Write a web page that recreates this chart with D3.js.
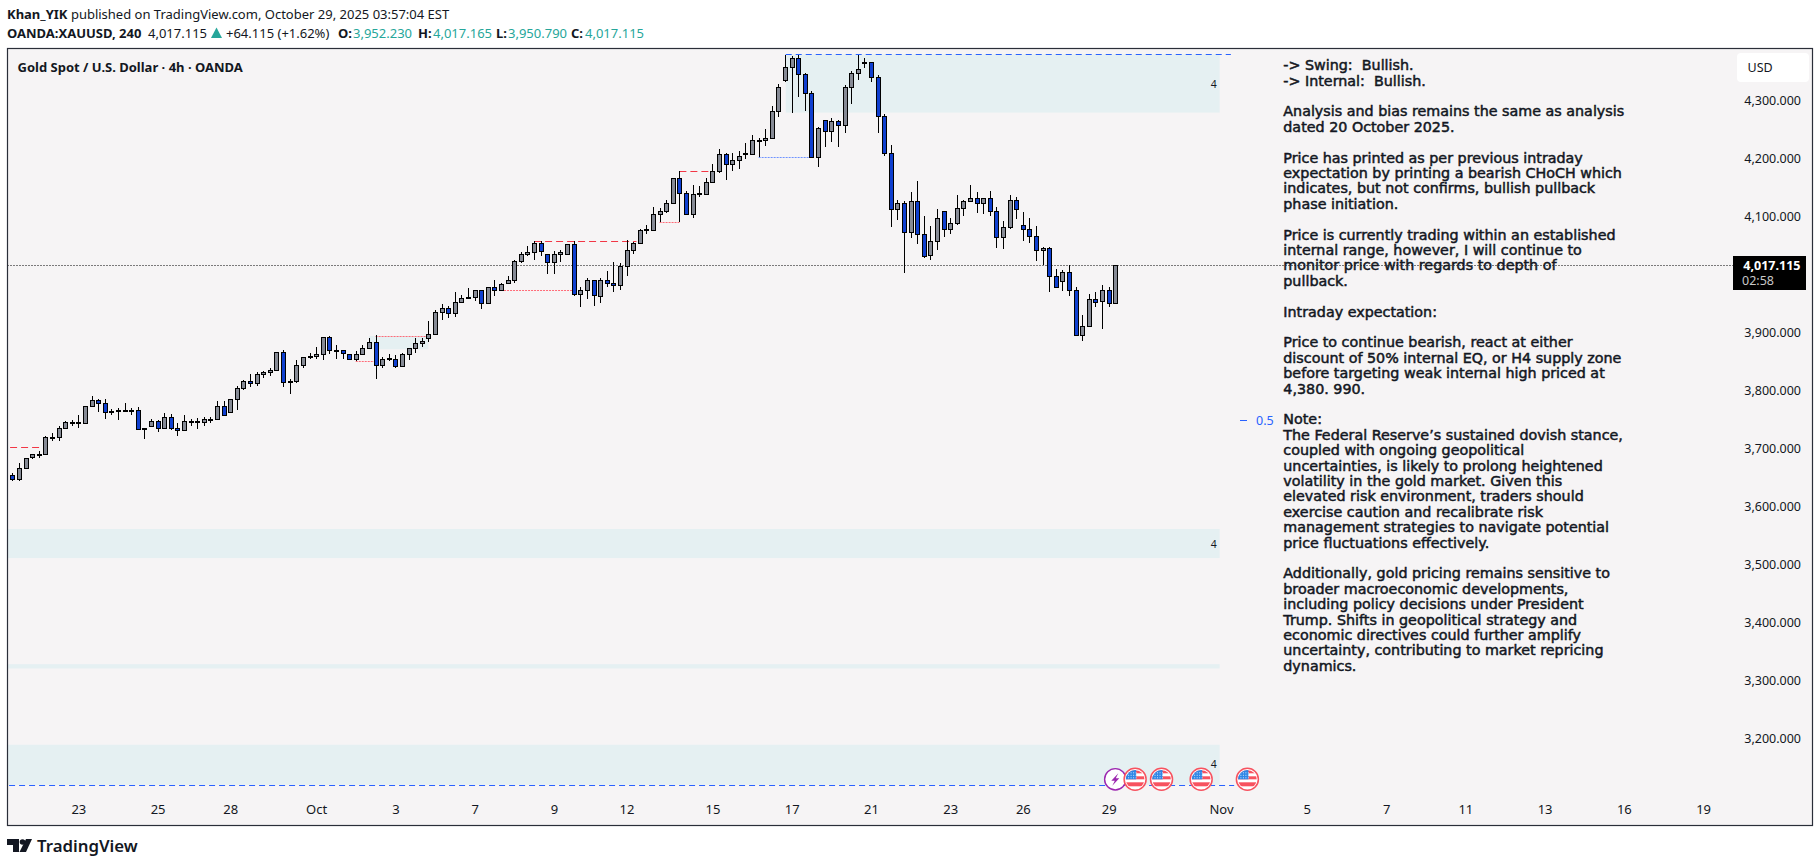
<!DOCTYPE html>
<html>
<head>
<meta charset="utf-8">
<script src="https://cdn.jsdelivr.net/npm/d3@7"></script>
<style>
  html, body { margin: 0; padding: 0; background: #fff; }
  svg { display: block; }
  text { font-family: "Noto Sans", sans-serif; fill: #131722; }
</style>
</head>
<body>
<script>
// OHLC of the 4h candles
const opens = [
  3655,3648,3667,3687,3690,3691,3720,3720,3736,3745, 3746,3744,3774,3784,3779,3764,3767,3768,3768,3767,
  3735,3739,3748,3737,3756,3737,3732,3746,3749,3746, 3751,3751,3774,3763,3786,3805,3818,3813,3829,3832,
  3837,3867,3815,3818,3844,3860,3860,3863,3893,3871, 3870,3863,3855,3863,3874,3884,3844,3856,3856,3843,
  3863,3874,3882,3891,3899,3937,3943,3934,3953,3962, 3962,3975,3951,3979,3975,3986,3991,4025,4036,4039,
  4056,4036,4022,4037,4037,4053,3968,3975,3991,3964, 3991,3986,3982,4016,4043,4055,4077,4078,4105,4111,
  4124,4167,4142,4106,4139,4139,4161,4179,4208,4191, 4198,4211,4209,4232,4232,4236,4282,4337,4358,4375,
  4346,4313,4204,4267,4248,4265,4258,4324,4348,4365, 4368,4341,4274,4210,4113,4124,4074,4127,4070,4034,
  4058,4110,4080,4089,4115,4127,4132,4125,4132,4111, 4065,4082,4129,4086,4080,4068,4043,4046,3998,3989,
  4006,3974,3896,3912,3958,3955,3974,3951
];
const highs = [
  3658,3675,3684,3691,3697,3722,3727,3740,3748,3750, 3759,3774,3791,3787,3786,3769,3770,3779,3770,3772,
  3737,3751,3750,3762,3760,3744,3758,3752,3753,3755, 3756,3782,3782,3787,3809,3819,3830,3832,3834,3840,
  3867,3870,3820,3853,3859,3866,3876,3893,3894,3879, 3871,3864,3869,3879,3891,3897,3858,3863,3862,3865,
  3874,3891,3891,3921,3939,3950,3946,3970,3966,3977, 3975,3975,3979,3991,3987,3998,4026,4039,4050,4058,
  4058,4036,4041,4043,4053,4059,3980,3994,3991,3994, 4007,4022,4020,4060,4057,4079,4086,4117,4115,4130,
  4168,4179,4144,4155,4153,4168,4191,4218,4211,4211, 4213,4227,4241,4236,4252,4291,4330,4380,4378,4379,
  4348,4317,4255,4268,4270,4267,4327,4351,4380,4375, 4368,4344,4277,4225,4130,4127,4143,4162,4102,4084,
  4113,4110,4099,4138,4130,4155,4143,4132,4144,4117, 4093,4138,4134,4108,4098,4084,4049,4049,4010,4008,
  4018,3979,3931,3968,3970,3982,3979,4017
];
const lows = [
  3645,3644,3667,3683,3685,3691,3713,3714,3735,3739, 3737,3744,3774,3764,3752,3759,3750,3766,3759,3734,
  3717,3739,3730,3735,3732,3723,3732,3739,3735,3740, 3744,3751,3758,3763,3768,3801,3807,3809,3823,3826,
  3837,3807,3794,3813,3840,3856,3856,3853,3864,3855, 3855,3854,3851,3863,3874,3820,3840,3852,3839,3843,
  3854,3866,3876,3884,3899,3923,3926,3928,3951,3959, 3955,3942,3951,3963,3974,3986,3986,4021,4032,4026,
  4032,4002,4002,4022,4034,3964,3945,3959,3947,3952, 3980,3971,3974,3998,4036,4055,4071,4078,4091,4107,
  4124,4091,4104,4099,4135,4139,4161,4176,4164,4179, 4183,4200,4209,4203,4223,4236,4273,4333,4280,4307,
  4283,4201,4187,4220,4230,4221,4245,4294,4336,4357, 4333,4245,4206,4082,4094,4004,4064,4054,4029,4026,
  4043,4066,4071,4086,4101,4127,4107,4105,4102,4047, 4044,4080,4097,4059,4055,4025,4017,3971,3980,3973,
  3964,3896,3887,3912,3945,3907,3944,3951
];
const closes = [
  3648,3667,3684,3691,3691,3720,3721,3736,3746,3747, 3744,3774,3784,3779,3763,3765,3765,3767,3766,3734,
  3736,3748,3737,3756,3737,3732,3748,3749,3746,3751, 3752,3774,3758,3786,3805,3818,3813,3829,3832,3837,
  3867,3815,3818,3844,3858,3861,3863,3893,3870,3870, 3865,3855,3863,3874,3884,3844,3856,3857,3843,3863,
  3874,3882,3886,3899,3937,3943,3934,3953,3960,3960, 3975,3951,3979,3975,3984,3991,4025,4036,4039,4056,
  4041,4022,4037,4039,4053,3968,3975,3991,3965,3991, 3986,3982,4015,4043,4055,4077,4079,4105,4110,4124,
  4167,4142,4106,4139,4142,4161,4179,4208,4191,4198, 4206,4209,4232,4233,4236,4282,4325,4358,4375,4346,
  4313,4204,4253,4249,4265,4258,4324,4348,4355,4368, 4341,4274,4210,4113,4124,4074,4127,4070,4032,4058,
  4098,4080,4089,4115,4127,4132,4125,4132,4111,4065, 4082,4129,4113,4080,4068,4043,4046,3998,3980,4006,
  3974,3896,3912,3958,3953,3974,3951,4017
];

// axis labels, keyed by bar number
const priceTicks = [4300,4200,4100,3900,3800,3700,3600,3500,3400,3300,3200];
const timeTickBars = [10,22,33,46,58,70,82,93,106,118,130,142,153,166,183,196,208,220,232,244,256];
const timeTickLabels = ["23","25","28","Oct","3","7","9","12","15","17","21","23","26","29","Nov","5","7","11","13","16","19"];

// zones: [first bar, last bar, top price, bottom price]
const zones = [
  [117.1,182.8,4380.5,4280],
  [-2,182.8,3562,3512],
  [-2,182.8,3329,3321.6],
  [-2,182.8,3190,3121],
  [54,63,3895,3872],
  [69,71,3965,3962]
];
// levels: [price, first bar, last bar]
const blueDashed = [[4380.5,117.1,184.5],[3121,-2,185]];
const blueDotted = [[4203,113,121]];
const redDashed = [[3703,-2,5],[4058,79,94.5],[4179,101,106]];
const redDotted = [[3895,55,63],[3851,52,55],[3974,74,85],[4091,98,101]];
const zoneLabels = [[4329,"4"],[3536,"4"],[3157,"4"]];
const lastPrice = 4017.115;
const halfLevel = 3750;

const eventBars = [170,174,180,187];
const dividendBar = 167;

const noteLines = [
  "-> Swing:  Bullish.",
  "-> Internal:  Bullish.",
  "",
  "Analysis and bias remains the same as analysis",
  "dated 20 October 2025.",
  "",
  "Price has printed as per previous intraday",
  "expectation by printing a bearish CHoCH which",
  "indicates, but not confirms, bullish pullback",
  "phase initiation.",
  "",
  "Price is currently trading within an established",
  "internal range, however, I will continue to",
  "monitor price with regards to depth of",
  "pullback.",
  "",
  "Intraday expectation:",
  "",
  "Price to continue bearish, react at either",
  "discount of 50% internal EQ, or H4 supply zone",
  "before targeting weak internal high priced at",
  "4,380. 990.",
  "",
  "Note:",
  "The Federal Reserve\u2019s sustained dovish stance,",
  "coupled with ongoing geopolitical",
  "uncertainties, is likely to prolong heightened",
  "volatility in the gold market. Given this",
  "elevated risk environment, traders should",
  "exercise caution and recalibrate risk",
  "management strategies to navigate potential",
  "price fluctuations effectively.",
  "",
  "Additionally, gold pricing remains sensitive to",
  "broader macroeconomic developments,",
  "including policy decisions under President",
  "Trump. Shifts in geopolitical strategy and",
  "economic directives could further amplify",
  "uncertainty, contributing to market repricing",
  "dynamics."
];

const width = 1820, height = 866;
const frame = {left: 7.5, top: 48.5, right: 1812.5, bottom: 825.5};
const green = "#26a69a", blue = "#2962ff", red = "#f23645", ink = "#131722";

const x = d3.scaleLinear().domain([0, 167]).range([12.3, 1115.3]);
const y = d3.scaleLinear().domain([4300, 3200]).range([101, 739]);

const svg = d3.select("body").append("svg").attr("width", width).attr("height", height);

svg.append("clipPath").attr("id", "plot").append("rect")
  .attr("x", frame.left).attr("y", frame.top)
  .attr("width", frame.right - frame.left).attr("height", frame.bottom - frame.top);

svg.append("rect").attr("x", frame.left).attr("y", frame.top)
  .attr("width", frame.right - frame.left).attr("height", frame.bottom - frame.top)
  .attr("fill", "#f6f4f5");

const plot = svg.append("g").attr("clip-path", "url(#plot)");

plot.append("g").selectAll("rect").data(zones).join("rect")
  .attr("x", d => x(d[0])).attr("width", d => x(d[1]) - x(d[0]))
  .attr("y", d => y(d[2])).attr("height", d => y(d[3]) - y(d[2]))
  .attr("fill", "#e5f0f2");

function levels(data, color, dash, w) {
  plot.append("g").selectAll("line").data(data).join("line")
    .attr("x1", d => x(d[1])).attr("x2", d => x(d[2]))
    .attr("y1", d => Math.round(y(d[0])) + .5).attr("y2", d => Math.round(y(d[0])) + .5)
    .attr("stroke", color).attr("stroke-width", w).attr("stroke-dasharray", dash);
}
levels(blueDashed, blue, "6 4", 1);
levels(blueDotted, "#6f93ff", "2 1", 1);
levels(redDashed, red, "7 4", 1);
levels(redDotted, "#ff6b78", "2 1", 1);

// last price line
plot.append("line")
  .attr("x1", frame.left).attr("x2", 1733)
  .attr("y1", Math.round(y(lastPrice)) + .5).attr("y2", Math.round(y(lastPrice)) + .5)
  .attr("stroke", "#000").attr("stroke-dasharray", "1 2");

// candles
const candles = d3.range(opens.length);
const candle = plot.append("g").selectAll("g").data(candles).join("g")
  .attr("transform", i => `translate(${Math.round(x(i))},0)`);
candle.append("line")
  .attr("x1", .5).attr("x2", .5)
  .attr("y1", i => Math.round(y(highs[i]))).attr("y2", i => Math.round(y(lows[i])))
  .attr("stroke", "#000");
candle.append("rect")
  .attr("x", -1.5).attr("width", 4)
  .attr("y", i => Math.round(y(Math.max(opens[i], closes[i]))) + .5)
  .attr("height", i => Math.max(1, Math.round(y(Math.min(opens[i], closes[i]))) - Math.round(y(Math.max(opens[i], closes[i])))))
  .attr("fill", i => closes[i] < opens[i] ? "#0f3fd0" : "#868a95")
  .attr("stroke", "#000");

// notes
plot.append("g").selectAll("text").data(noteLines).join("text")
  .attr("x", 1283.3)
  .attr("y", (d, i) => 65 + i * 15.4)
  .attr("dy", "0.36em")
  .style("font-family", "'DejaVu Sans'")
  .style("font-size", "14.3px")
  .style("white-space", "pre")
  .style("stroke", ink).style("stroke-width", .5)
  .text(d => d);

// small labels on the zones
plot.append("g").selectAll("text").data(zoneLabels).join("text")
  .attr("x", x(182.8) - 6).attr("y", d => y(d[0])).attr("dy", "0.36em")
  .attr("text-anchor", "middle").style("font-size", "10.5px").text(d => d[1]);

const half = plot.append("g");
half.append("line").attr("x1", 1240).attr("x2", 1247)
  .attr("y1", Math.round(y(halfLevel)) + .5).attr("y2", Math.round(y(halfLevel)) + .5)
  .attr("stroke", blue);
half.append("text").attr("x", 1256).attr("y", y(halfLevel)).attr("dy", "0.36em")
  .style("font-size", "12.5px").style("fill", blue).text("0.5");

// axes
const yAxis = svg.append("g").attr("transform", "translate(1801,-1)")
  .call(d3.axisLeft(y).tickValues(priceTicks).tickSize(0).tickFormat(d3.format(",.3f")));
yAxis.select(".domain").remove();
yAxis.selectAll("text").attr("x", 0).style("font-family", "'Noto Sans'").style("font-size", "12.5px").style("fill", "#131722");

const xAxis = svg.append("g").attr("transform", "translate(0,809)")
  .call(d3.axisBottom(x).tickValues(timeTickBars).tickSize(0).tickFormat((d, i) => timeTickLabels[i]));
xAxis.select(".domain").remove();
xAxis.selectAll("text").attr("y", 0).attr("dy", "0.36em").style("font-family", "'Noto Sans'").style("font-size", "13px").style("fill", "#131722");

// USD box
svg.append("rect").attr("x", 1737).attr("y", 53).attr("width", 72).attr("height", 29).attr("rx", 4).attr("fill", "#fff");
svg.append("text").attr("x", 1747.5).attr("y", 67.5).attr("dy", "0.36em").style("font-size", "12.5px").text("USD");

// last price tag
svg.append("rect").attr("x", 1733).attr("y", 256).attr("width", 73).attr("height", 34).attr("fill", "#000");
svg.append("text").attr("x", 1800.5).attr("y", 265).attr("dy", "0.36em").attr("text-anchor", "end")
  .style("font-size", "12.5px").style("font-weight", 700).style("fill", "#fff").text(d3.format(",.3f")(lastPrice));
svg.append("text").attr("x", 1742).attr("y", 280).attr("dy", "0.36em")
  .style("font-size", "12.5px").style("fill", "#c8c8c8").text("02:58");

// frame on top
svg.append("rect").attr("x", frame.left).attr("y", frame.top)
  .attr("width", frame.right - frame.left).attr("height", frame.bottom - frame.top)
  .attr("fill", "none").attr("stroke", "#2a2e39").attr("stroke-width", 1.2);

// event markers
const markerY = 779.3;
const dividend = svg.append("g").attr("transform", `translate(${x(dividendBar)},${markerY})`);
dividend.append("circle").attr("r", 10.7).attr("fill", "#fff").attr("stroke", "#9c27b0").attr("stroke-width", 1.4);
dividend.append("path").attr("d", "M3 -6 L-4 1.5 L-0.5 1.5 L-3 6.5 L4 -1 L0.5 -1 Z").attr("fill", "#9c27b0");

svg.append("clipPath").attr("id", "flagClip").append("circle").attr("r", 9.3);
const flag = svg.append("g").selectAll("g").data(eventBars).join("g")
  .attr("transform", d => `translate(${x(d)},${markerY})`);
flag.append("circle").attr("r", 11).attr("fill", "#fff").attr("stroke", "#f7525f").attr("stroke-width", 1.5);
const flagInner = flag.append("g").attr("clip-path", "url(#flagClip)");
flagInner.append("rect").attr("x", -10).attr("y", -9).attr("width", 20).attr("height", 3).attr("fill", "#f7525f");
flagInner.append("rect").attr("x", -10).attr("y", -3).attr("width", 20).attr("height", 3).attr("fill", "#f7525f");
flagInner.append("rect").attr("x", -10).attr("y", 3).attr("width", 20).attr("height", 4).attr("fill", "#f7525f");
flagInner.append("rect").attr("x", -10).attr("y", -10).attr("width", 11).attr("height", 10).attr("fill", "#2f86e6");
d3.cross([-7, -4.5, -2, 0.5], [-7, -4.5, -2]).forEach(p => {
  flagInner.append("rect").attr("x", p[0]).attr("y", p[1]).attr("width", 1).attr("height", 1).attr("fill", "#cfe4fb");
});

// header
const head1 = svg.append("text").attr("x", 7).attr("y", 14.5).attr("dy", "0.36em").style("font-size", "13px");
head1.append("tspan").style("font-weight", 700).text("Khan_YIK");
head1.append("tspan").text(" published on TradingView.com, October 29, 2025 03:57:04 EST");

const head2 = svg.append("text").attr("x", 7).attr("y", 33.5).attr("dy", "0.36em").style("font-size", "13px");
head2.append("tspan").style("font-weight", 700).text("OANDA:XAUUSD, 240");
head2.append("tspan").attr("x", 148).text("4,017.115");
head2.append("tspan").attr("x", 226).text("+64.115 (+1.62%)");
[["O:", "3,952.230", 338, 353], ["H:", "4,017.165", 418, 433], ["L:", "3,950.790", 496, 508], ["C:", "4,017.115", 571, 585]]
  .forEach(d => {
    head2.append("tspan").attr("x", d[2]).style("font-weight", 700).text(d[0]);
    head2.append("tspan").attr("x", d[3]).style("fill", green).text(d[1]);
  });
svg.append("path").attr("d", "M216.5 27.5 L222 38 L211 38 Z").attr("fill", green);

svg.append("text").attr("x", 17.5).attr("y", 67).attr("dy", "0.36em")
  .style("font-size", "13px").style("font-weight", 700)
  .text("Gold Spot / U.S. Dollar \u00b7 4h \u00b7 OANDA");

// TradingView logo
const logo = svg.append("g").style("fill", ink);
logo.append("path").attr("d", "M7 839 H19 V852 H13 V845 H7 Z").attr("fill", ink);
logo.append("circle").attr("cx", 22.5).attr("cy", 842).attr("r", 2.8).attr("fill", ink);
logo.append("path").attr("d", "M26 839 H32 L26 852 H19.5 Z").attr("fill", ink);
svg.append("text").attr("x", 37).attr("y", 846).attr("dy", "0.36em")
  .style("font-size", "16.8px").style("font-weight", 600).text("TradingView");
</script>
</body>
</html>
